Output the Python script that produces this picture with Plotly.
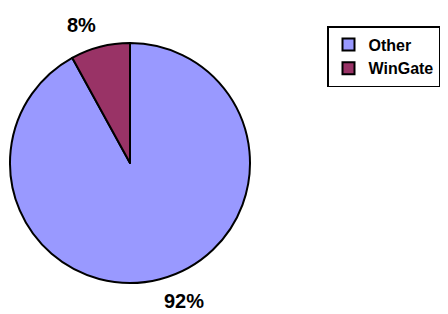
import math
import plotly.graph_objects as go

labels = ["Other", "WinGate"]
values = [92, 8]
colors = ["#9999FF", "#993366"]

# page body adds an 8px margin; the figure is sized to fill the rest of the window
OFF = 8
W, H = 448 - OFF, 314 - OFF
cx, cy, r = 130 - OFF, 163 - OFF, 120
label_r = 129
FONT = "Liberation Sans, Arial, sans-serif"

fig = go.Figure()
fig.add_trace(go.Pie(
    labels=labels,
    values=values,
    sort=False,
    direction="clockwise",
    rotation=0,
    marker=dict(colors=colors, line=dict(color="black", width=2)),
    textinfo="none",
    domain=dict(x=[(cx - r) / W, (cx + r) / W], y=[1 - (cy + r) / H, 1 - (cy - r) / H]),
    automargin=False,
    hoverinfo="label+percent",
))

# percentage labels placed outside each slice, from the data's mid-angles
total = sum(values)
cum = 0
for v in values:
    mid = (cum + v / 2) / total * 2 * math.pi
    cum += v
    sx, sy = math.sin(mid), math.cos(mid)
    px = cx + label_r * sx
    py = cy - label_r * sy
    fig.add_annotation(
        text=f"{round(v / total * 100)}%",
        x=px / W, y=1 - py / H, xref="paper", yref="paper",
        xanchor="left" if sx > 0 else "right",
        yanchor="bottom" if sy > 0 else "top",
        showarrow=False,
        font=dict(family=FONT, size=20, color="black", weight="bold"),
    )

fig.update_layout(
    width=W, height=H,
    margin=dict(l=0, r=0, t=0, b=0),
    paper_bgcolor="white",
    plot_bgcolor="white",
    showlegend=True,
    legend=dict(
        x=(327 - OFF) / W, y=1 - (26 - OFF) / H, xanchor="left", yanchor="top",
        bordercolor="black", borderwidth=1.5, bgcolor="white",
        font=dict(family=FONT, size=16, color="black", weight="bold"),
        itemwidth=30,
    ),
)

fig.write_html("out.html")
